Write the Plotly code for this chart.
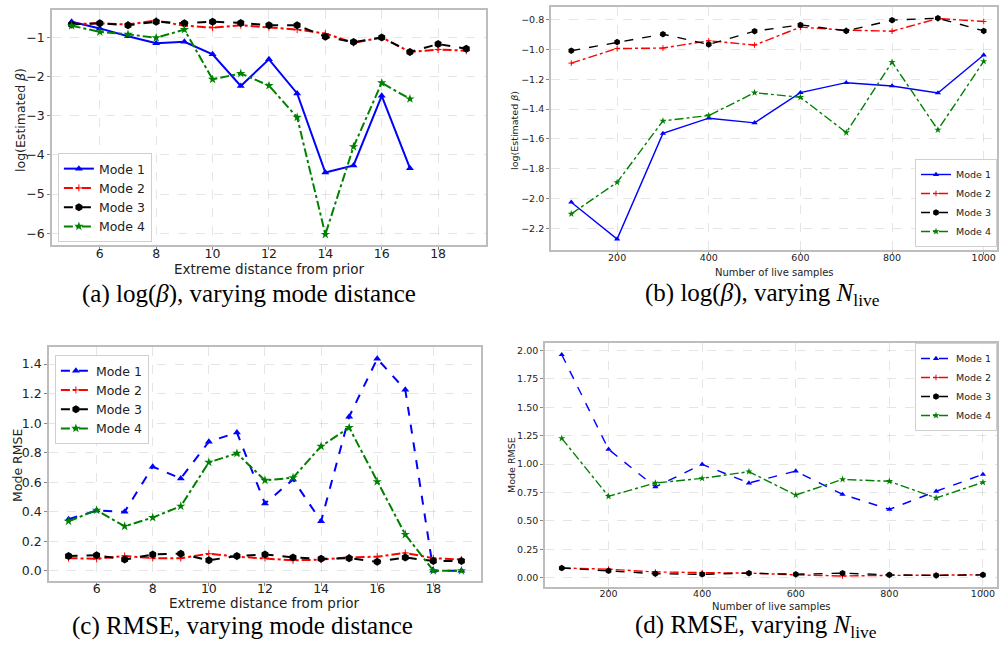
import plotly.graph_objects as go

# ---------------- data ----------------
dist = [5, 6, 7, 8, 9, 10, 11, 12, 13, 14, 15, 16, 17, 18, 19]
dist_short = [5, 6, 7, 8, 9, 10, 11, 12, 13, 14, 15, 16, 17]
nlive = [100, 200, 300, 400, 500, 600, 700, 800, 900, 1000]

# (a) log(beta) vs distance
a_mode1 = [-0.60, -0.77, -0.97, -1.15, -1.11, -1.43, -2.24, -1.56, -2.43, -4.45, -4.27, -2.49, -4.34]
a_mode2 = [-0.66, -0.64, -0.67, -0.57, -0.70, -0.75, -0.69, -0.74, -0.80, -0.90, -1.14, -1.00, -1.37, -1.31, -1.34]
a_mode3 = [-0.67, -0.64, -0.69, -0.60, -0.64, -0.60, -0.63, -0.69, -0.69, -0.98, -1.12, -1.00, -1.37, -1.17, -1.29]
a_mode4 = [-0.70, -0.86, -0.92, -1.01, -0.80, -2.07, -1.92, -2.23, -3.04, -6.03, -3.79, -2.16, -2.57]

# (b) log(beta) vs N_live
b_mode1 = [-2.024, -2.271, -1.563, -1.461, -1.492, -1.290, -1.223, -1.245, -1.292, -1.038]
b_mode2 = [-1.092, -0.994, -0.991, -0.942, -0.971, -0.851, -0.871, -0.878, -0.793, -0.813]
b_mode3 = [-1.009, -0.951, -0.898, -0.967, -0.878, -0.836, -0.876, -0.804, -0.791, -0.876]
b_mode4 = [-2.102, -1.891, -1.479, -1.443, -1.290, -1.321, -1.557, -1.085, -1.539, -1.080]

# (c) RMSE vs distance
c_mode1 = [0.349, 0.408, 0.399, 0.705, 0.625, 0.874, 0.936, 0.455, 0.618, 0.335, 1.044, 1.436, 1.226, 0.0, 0.0]
c_mode2 = [0.085, 0.080, 0.100, 0.085, 0.085, 0.115, 0.095, 0.085, 0.070, 0.075, 0.090, 0.095, 0.120, 0.085, 0.075]
c_mode3 = [0.100, 0.105, 0.075, 0.110, 0.115, 0.070, 0.100, 0.110, 0.090, 0.080, 0.085, 0.060, 0.090, 0.065, 0.065]
c_mode4 = [0.335, 0.410, 0.301, 0.360, 0.437, 0.734, 0.795, 0.612, 0.630, 0.843, 0.970, 0.603, 0.245, 0.0, 0.0]

# (d) RMSE vs N_live
d_mode1 = [1.962, 1.129, 0.798, 0.997, 0.833, 0.938, 0.733, 0.601, 0.760, 0.909]
d_mode2 = [0.085, 0.075, 0.050, 0.045, 0.040, 0.025, 0.015, 0.020, 0.020, 0.025]
d_mode3 = [0.085, 0.060, 0.035, 0.030, 0.040, 0.030, 0.040, 0.025, 0.020, 0.025]
d_mode4 = [1.226, 0.716, 0.833, 0.874, 0.933, 0.727, 0.865, 0.848, 0.701, 0.839]

names = ["Mode 1", "Mode 2", "Mode 3", "Mode 4"]
captions = ["(a) log(<i>β</i>), varying mode distance",
            "(b) log(<i>β</i>), varying <i>N</i><sub>live</sub>",
            "(c) RMSE, varying mode distance",
            "(d) RMSE, varying <i>N</i><sub>live</sub>"]
xtitles = ["Extreme distance from prior", "Number of live samples",
           "Extreme distance from prior", "Number of live samples"]
ytitles = ["log(Estimated <i>β</i>)", "log(Estimated <i>β</i>)", "Mode RMSE", "Mode RMSE"]

# axis ticks
xt = [[6, 8, 10, 12, 14, 16, 18], [200, 400, 600, 800, 1000],
      [6, 8, 10, 12, 14, 16, 18], [200, 400, 600, 800, 1000]]
yt = [[-6, -5, -4, -3, -2, -1],
      [-2.2, -2.0, -1.8, -1.6, -1.4, -1.2, -1.0, -0.8],
      [0.0, 0.2, 0.4, 0.6, 0.8, 1.0, 1.2, 1.4],
      [0.0, 0.25, 0.5, 0.75, 1.0, 1.25, 1.5, 1.75, 2.0]]

# ---------------- styling ----------------
colors = ["#0000ff", "#ff0000", "#000000", "#008000"]
symbols = ["triangle-up", "cross-thin", "hexagon", "star"]
W, H = 999, 652
SANS = "DejaVu Sans"
SERIF = "Liberation Serif"

fig = go.Figure()


def px_dom_x(a, b):
    return [a / W, min(b / W, 1.0)]


def px_dom_y(top, bottom):
    return [1 - bottom / H, 1 - top / H]


panels = [
    dict(ax="", xd=px_dom_x(52, 487), yd=px_dom_y(10, 245), big=True, xso=-7),
    dict(ax="2", xd=px_dom_x(552, 999), yd=px_dom_y(7, 250), big=False, xso=-5),
    dict(ax="3", xd=px_dom_x(49, 482), yd=px_dom_y(347, 581), big=True, xso=-8),
    dict(ax="4", xd=px_dom_x(546, 999), yd=px_dom_y(343, 587), big=False, xso=-6),
]

series = [
    (dist_short, a_mode1, dist, a_mode2, dist, a_mode3, dist_short, a_mode4, "solid"),
    (nlive, b_mode1, nlive, b_mode2, nlive, b_mode3, nlive, b_mode4, "solid"),
    (dist, c_mode1, dist, c_mode2, dist, c_mode3, dist, c_mode4, "dash"),
    (nlive, d_mode1, nlive, d_mode2, nlive, d_mode3, nlive, d_mode4, "dash"),
]

legend_names = ["legend", "legend2", "legend3", "legend4"]

for i, (p, s) in enumerate(zip(panels, series)):
    big = p["big"]
    lw = 2.0 if big else 1.4
    xs = [s[0], s[2], s[4], s[6]]
    ys = [s[1], s[3], s[5], s[7]]
    dashes = [s[8], "dashdot", "dash", "dashdot"]
    sizes = [7, 5, 8, 7] if big else [5.5, 4, 6.5, 5.5]
    for k in range(4):
        fig.add_trace(go.Scatter(
            x=xs[k], y=ys[k], name=names[k], mode="lines+markers",
            line=dict(color=colors[k], width=lw, dash=dashes[k]),
            marker=dict(symbol=symbols[k], size=sizes[k], color=colors[k],
                        line=dict(width=1 if k == 1 else 0, color=colors[k])),
            xaxis="x" + p["ax"], yaxis="y" + p["ax"],
            legend=legend_names[i],
        ))

grid = "rgba(0,0,0,0.10)"
border = "#bdbdbd"


def axis_common(big):
    return dict(showgrid=True, gridcolor=grid, griddash="dash", gridwidth=1,
                showline=True, linecolor=border, linewidth=1.5, mirror=True,
                zeroline=False, ticks="outside", ticklen=3, tickcolor="#888",
                tickfont=dict(family=SANS, size=12.5 if big else 9.5, color="#222"))


layout = dict(width=W, height=H, margin=dict(l=0, r=0, t=0, b=0),
              paper_bgcolor="white", plot_bgcolor="white", showlegend=True)

xr = [[4.3, 19.7], [55.5, 1029], [4.3, 19.7], [64, 1030]]
yr = [[-6.30, -0.30], [-2.344, -0.716], [-0.070, 1.516], [-0.082, 2.065]]
yfmt = ["d", ".1f", ".1f", ".2f"]

for i, p in enumerate(panels):
    big = p["big"]
    xa = axis_common(big)
    xa.update(domain=p["xd"], range=xr[i], tickvals=xt[i], anchor="y" + p["ax"],
              ticklabelstandoff=p["xso"])
    ya = axis_common(big)
    ya.update(domain=p["yd"], range=yr[i], tickvals=yt[i], tickformat=yfmt[i],
              anchor="x" + p["ax"])
    layout["xaxis" + p["ax"]] = xa
    layout["yaxis" + p["ax"]] = ya

leg_common = dict(bgcolor="rgba(255,255,255,0.9)", bordercolor="#d0d0d0", borderwidth=1,
                  tracegroupgap=0, itemwidth=30)
layout["legend"] = dict(leg_common, x=58 / W, y=1 - 153 / H, xanchor="left", yanchor="top",
                        font=dict(family=SANS, size=12.5, color="#222"))
layout["legend2"] = dict(leg_common, x=1.0, y=1 - 247 / H, xanchor="right", yanchor="bottom",
                         font=dict(family=SANS, size=9.5, color="#222"))
layout["legend3"] = dict(leg_common, x=55 / W, y=1 - 355 / H, xanchor="left", yanchor="top",
                         font=dict(family=SANS, size=12.5, color="#222"))
layout["legend4"] = dict(leg_common, x=1.0, y=1 - 343 / H, xanchor="right", yanchor="top",
                         font=dict(family=SANS, size=9.5, color="#222"))

fig.update_layout(**layout)

ann = []


def add_text(text, x, y, size, rot=0, family=SANS, color="#222"):
    ann.append(dict(text=text, x=x / W, y=1 - y / H, xref="paper", yref="paper",
                    showarrow=False, textangle=rot, xanchor="center", yanchor="middle",
                    font=dict(family=family, size=size, color=color)))


add_text(xtitles[0], 270, 269, 13.5)
add_text(xtitles[1], 776, 272, 10)
add_text(xtitles[2], 265, 603, 13.5)
add_text(xtitles[3], 773, 606, 10)
add_text(ytitles[0], 20, 120, 12.5, rot=-90)
add_text(ytitles[1], 516, 130, 9.5, rot=-90)
add_text(ytitles[2], 17, 465, 12.5, rot=-90)
add_text(ytitles[3], 512, 465, 9.5, rot=-90)

add_text(captions[0], 249, 294, 25, family=SERIF, color="#000")
add_text(captions[1], 764, 294, 25, family=SERIF, color="#000")
add_text(captions[2], 243, 626, 25, family=SERIF, color="#000")
add_text(captions[3], 758, 626, 25, family=SERIF, color="#000")

fig.update_layout(annotations=ann)

fig.write_html("out.html", config={"displayModeBar": False},
               post_script="document.body.style.margin='0px';document.body.style.padding='0px';")
